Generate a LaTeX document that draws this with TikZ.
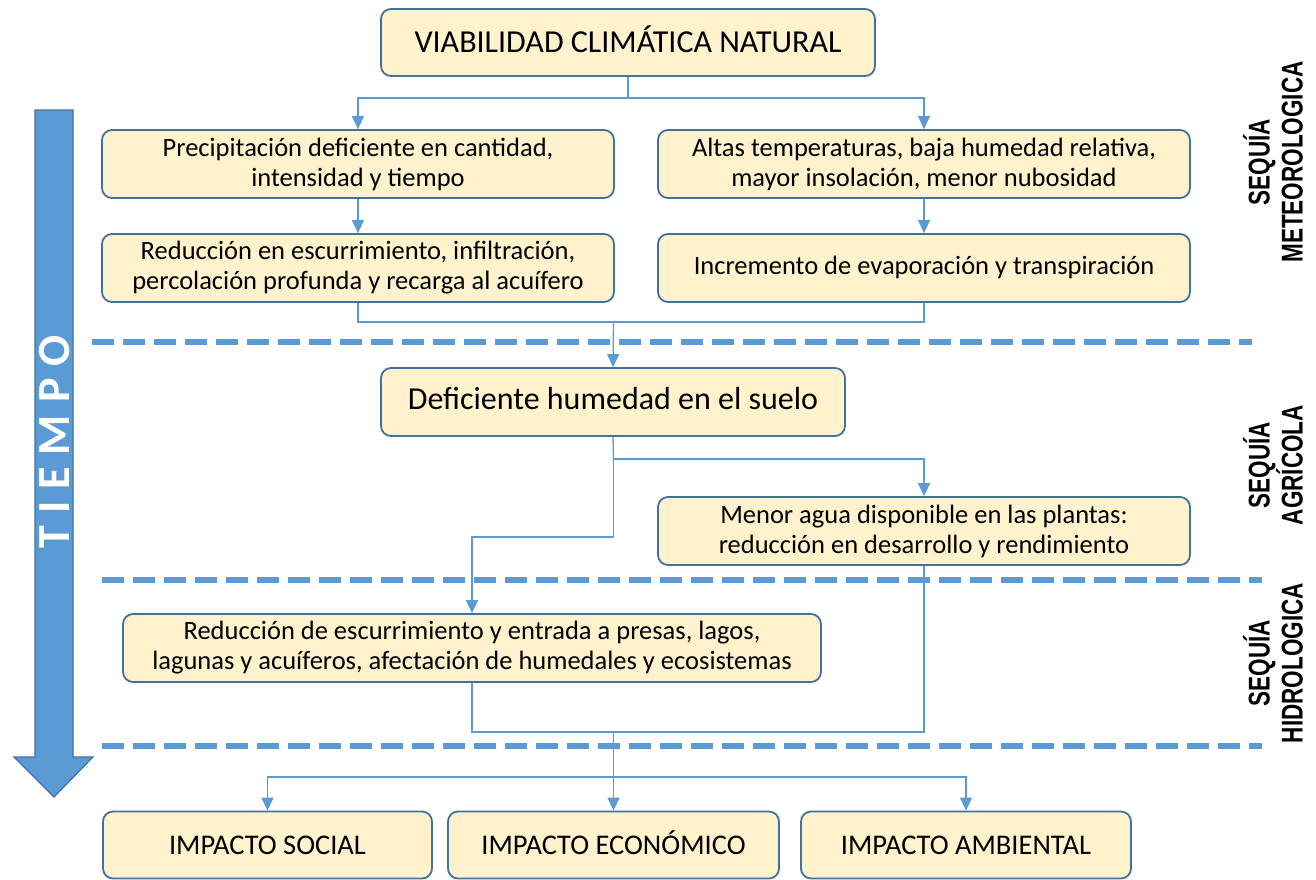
\documentclass[tikz,border=0pt]{standalone}
\usepackage{fontspec}
\setmainfont{Carlito}
\newfontfamily\narrowfont[FakeStretch=0.75]{Liberation Sans}
\usetikzlibrary{arrows.meta}
\definecolor{boxfill}{HTML}{FFF2CC}
\definecolor{boxline}{HTML}{41719C}
\definecolor{conncol}{HTML}{5B9BD5}
\tikzset{
  box/.style={draw=boxline, fill=boxfill, line width=1.8pt, rounded corners=10pt,
    align=center, inner sep=0pt, font=\fontsize{26.5}{30}\selectfont},
  onebox/.style={box, text depth=0pt},
  conn/.style={draw=conncol, line width=1.3pt},
  arr/.style={conn, -{Triangle[width=12pt,length=13pt]}},
  sep/.style={draw=conncol, line width=6pt, dash pattern=on 22pt off 9pt},
  side/.style={rotate=90, align=center, font=\narrowfont\bfseries\fontsize{30}{33}\selectfont}
}
\begin{document}
\begin{tikzpicture}[x=1pt,y=-1pt]
\useasboundingbox (0,0) rectangle (1316,879);
% dashed separators
\draw[sep] (92,342) -- (1252,342);
\draw[sep] (102,580) -- (1262,580);
\draw[sep] (102,746) -- (1262,746);
% time arrow
\fill[conncol, draw=boxline, line width=1.2pt] (35,110) -- (73,110) -- (73,757) -- (93,757) -- (54,797) -- (14,757) -- (35,757) -- cycle;
\node[rotate=90, text=white, font=\bfseries\fontsize{46}{46}\selectfont] (tiempo) at (55,442)
  {T\hspace{12pt}I\hspace{12pt}E\hspace{12pt}M\hspace{12pt}P\hspace{12pt}O};
% side labels
\node[side] (lmet) at (1273,162) {SEQUÍA\\METEOROLOGICA};
\node[side] (lagr) at (1273,465) {SEQUÍA\\AGRÍCOLA};
\node[side] (lhid) at (1273,663) {SEQUÍA\\HIDROLOGICA};
% boxes
\node[onebox, text height=20.6pt, minimum width=494pt, minimum height=67pt, font=\fontsize{32}{34}\selectfont] (top) at (628,42.5) {VIABILIDAD CLIMÁTICA NATURAL};
\node[box, minimum width=512pt, minimum height=68pt] (prec) at (358,164) {Precipitación deficiente en cantidad,\\intensidad y tiempo};
\node[box, minimum width=532pt, minimum height=68pt] (altas) at (924,164) {Altas temperaturas, baja humedad relativa,\\mayor insolación, menor nubosidad};
\node[box, minimum width=512pt, minimum height=68pt] (red) at (358,268) {Reducción en escurrimiento, infiltración,\\percolación profunda y recarga al acuífero};
\node[onebox, text height=12pt, minimum width=532pt, minimum height=68pt] (inc) at (924,268) {Incremento de evaporación y transpiración};
\node[onebox, text height=14.5pt, minimum width=464pt, minimum height=68pt, font=\fontsize{32}{34}\selectfont] (def) at (613,402) {Deficiente humedad en el suelo};
\node[box, minimum width=532pt, minimum height=68pt] (men) at (924,531) {Menor agua disponible en las plantas:\\reducción en desarrollo y rendimiento};
\node[box, minimum width=698pt, minimum height=68pt] (hyd) at (472,648) {Reducción de escurrimiento y entrada a presas, lagos,\\lagunas y acuíferos, afectación de humedales y ecosistemas};
\node[onebox, text height=18.3pt, minimum width=329pt, minimum height=67pt, font=\fontsize{28.5}{30}\selectfont] (soc) at (267.5,845) {IMPACTO SOCIAL};
\node[onebox, text height=18.3pt, minimum width=331pt, minimum height=67pt, font=\fontsize{28.5}{30}\selectfont] (eco) at (613.5,845) {IMPACTO ECONÓMICO};
\node[onebox, text height=18.3pt, minimum width=330pt, minimum height=67pt, font=\fontsize{28.5}{30}\selectfont] (amb) at (966,845) {IMPACTO AMBIENTAL};
% junctions
\coordinate (j1) at (628,98);
\coordinate (j2) at (613.5,322);
\coordinate (j3) at (613.5,459);
\coordinate (j4) at (613.5,537);
\coordinate (j5) at (613.5,732);
\coordinate (j6) at (613.5,777);
% connectors
\draw[conn] (top.south) -- (j1);
\draw[arr] (j1) -| (prec.north);
\draw[arr] (j1) -| (altas.north);
\draw[arr] (prec.south) -- (red.north);
\draw[arr] (altas.south) -- (inc.north);
\draw[conn] (red.south) |- (j2);
\draw[conn] (inc.south) |- (j2);
\draw[arr] (j2) -- (def.north);
\draw[conn] (def.south) -- (j3);
\draw[arr] (j3) -| (men.north);
\draw[arr] (j3) -- (j4) -| (hyd.north);
\draw[conn] (hyd.south) |- (j5);
\draw[conn] (men.south) |- (j5);
\draw[arr] (j5) -- (eco.north);
\draw[arr] (j6) -| (soc.north);
\draw[arr] (j6) -| (amb.north);
\end{tikzpicture}
\end{document}
